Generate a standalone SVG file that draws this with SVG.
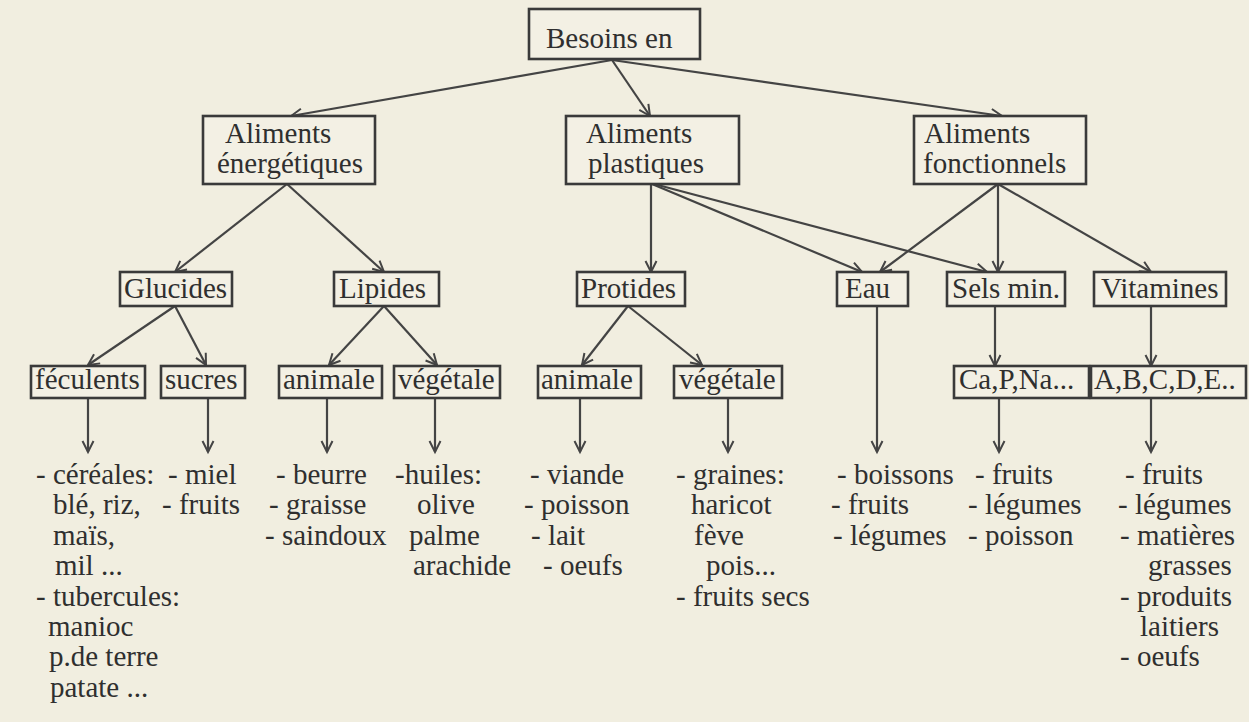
<svg xmlns="http://www.w3.org/2000/svg" width="1249" height="722" viewBox="0 0 1249 722">
<defs>
<marker id="ah" markerUnits="userSpaceOnUse" markerWidth="16" markerHeight="16" refX="13" refY="7" orient="auto">
<path d="M2,1.5 L13,7 L2,12.5" fill="none" stroke="#444" stroke-width="2"/>
</marker>
</defs>
<rect x="0" y="0" width="1249" height="722" fill="#f1eee0"/>
<g id="connectors" stroke="#444" stroke-width="2.2" fill="none" marker-end="url(#ah)">
<line x1="612" y1="60" x2="291" y2="116"/>
<line x1="612" y1="60" x2="650" y2="116"/>
<line x1="612" y1="60" x2="1002" y2="116"/>
<line x1="287" y1="184" x2="175" y2="272"/>
<line x1="287" y1="184" x2="384" y2="272"/>
<line x1="651" y1="184" x2="651" y2="272"/>
<line x1="652" y1="184" x2="862" y2="272"/>
<line x1="654" y1="184" x2="987" y2="272"/>
<line x1="998" y1="184" x2="880" y2="272"/>
<line x1="998" y1="184" x2="998" y2="272"/>
<line x1="998" y1="184" x2="1151" y2="272"/>
<line x1="175" y1="306" x2="88" y2="365"/>
<line x1="175" y1="306" x2="206" y2="365"/>
<line x1="384" y1="306" x2="329" y2="365"/>
<line x1="384" y1="306" x2="437" y2="365"/>
<line x1="628" y1="306" x2="582" y2="365"/>
<line x1="628" y1="306" x2="702" y2="365"/>
<line x1="995" y1="306" x2="995" y2="366"/>
<line x1="1151" y1="306" x2="1151" y2="366"/>
<line x1="877" y1="306" x2="877" y2="452"/>
<line x1="88" y1="398" x2="88" y2="452"/>
<line x1="208" y1="398" x2="208" y2="452"/>
<line x1="327" y1="398" x2="327" y2="452"/>
<line x1="435" y1="398" x2="435" y2="452"/>
<line x1="580" y1="398" x2="580" y2="452"/>
<line x1="728" y1="398" x2="728" y2="452"/>
<line x1="999" y1="398" x2="999" y2="452"/>
<line x1="1151" y1="398" x2="1151" y2="452"/>
</g>
<g id="n-besoins"><rect fill="#f3f0e4" stroke="#3a3a3a" stroke-width="2.6" x="529" y="9" width="171" height="50"/><text font-family="Liberation Serif" font-size="29" fill="#2f2f2f" x="546" y="48">Besoins en</text></g>
<g id="n-energetiques"><rect fill="#f3f0e4" stroke="#3a3a3a" stroke-width="2.6" x="203" y="116" width="172" height="68"/><text font-family="Liberation Serif" font-size="29" fill="#2f2f2f" x="225" y="143">Aliments</text><text font-family="Liberation Serif" font-size="29" fill="#2f2f2f" x="217" y="173">énergétiques</text></g>
<g id="n-plastiques"><rect fill="#f3f0e4" stroke="#3a3a3a" stroke-width="2.6" x="566" y="116" width="173" height="68"/><text font-family="Liberation Serif" font-size="29" fill="#2f2f2f" x="586" y="143">Aliments</text><text font-family="Liberation Serif" font-size="29" fill="#2f2f2f" x="588" y="173">plastiques</text></g>
<g id="n-fonctionnels"><rect fill="#f3f0e4" stroke="#3a3a3a" stroke-width="2.6" x="914" y="116" width="172" height="68"/><text font-family="Liberation Serif" font-size="29" fill="#2f2f2f" x="924" y="143">Aliments</text><text font-family="Liberation Serif" font-size="29" fill="#2f2f2f" x="923" y="173">fonctionnels</text></g>
<g id="n-glucides"><rect fill="#f3f0e4" stroke="#3a3a3a" stroke-width="2.6" x="120" y="272" width="112" height="34"/><text font-family="Liberation Serif" font-size="29" fill="#2f2f2f" x="124" y="298">Glucides</text></g>
<g id="n-lipides"><rect fill="#f3f0e4" stroke="#3a3a3a" stroke-width="2.6" x="334" y="272" width="105" height="34"/><text font-family="Liberation Serif" font-size="29" fill="#2f2f2f" x="339" y="298">Lipides</text></g>
<g id="n-protides"><rect fill="#f3f0e4" stroke="#3a3a3a" stroke-width="2.6" x="577" y="272" width="108" height="34"/><text font-family="Liberation Serif" font-size="29" fill="#2f2f2f" x="581" y="298">Protides</text></g>
<g id="n-eau"><rect fill="#f3f0e4" stroke="#3a3a3a" stroke-width="2.6" x="837" y="272" width="71" height="34"/><text font-family="Liberation Serif" font-size="29" fill="#2f2f2f" x="845" y="298">Eau</text></g>
<g id="n-sels"><rect fill="#f3f0e4" stroke="#3a3a3a" stroke-width="2.6" x="947" y="272" width="118" height="34"/><text font-family="Liberation Serif" font-size="29" fill="#2f2f2f" x="952" y="298">Sels min.</text></g>
<g id="n-vitamines"><rect fill="#f3f0e4" stroke="#3a3a3a" stroke-width="2.6" x="1094" y="272" width="132" height="34"/><text font-family="Liberation Serif" font-size="29" fill="#2f2f2f" x="1101" y="298">Vitamines</text></g>
<g id="n-feculents"><rect fill="#f3f0e4" stroke="#3a3a3a" stroke-width="2.6" x="31" y="366" width="114" height="32"/><text font-family="Liberation Serif" font-size="29" fill="#2f2f2f" x="35" y="389">féculents</text></g>
<g id="n-sucres"><rect fill="#f3f0e4" stroke="#3a3a3a" stroke-width="2.6" x="161" y="366" width="84" height="32"/><text font-family="Liberation Serif" font-size="29" fill="#2f2f2f" x="165" y="389">sucres</text></g>
<g id="n-animale1"><rect fill="#f3f0e4" stroke="#3a3a3a" stroke-width="2.6" x="279" y="366" width="103" height="32"/><text font-family="Liberation Serif" font-size="29" fill="#2f2f2f" x="283" y="389">animale</text></g>
<g id="n-vegetale1"><rect fill="#f3f0e4" stroke="#3a3a3a" stroke-width="2.6" x="394" y="366" width="106" height="32"/><text font-family="Liberation Serif" font-size="29" fill="#2f2f2f" x="398" y="389">végétale</text></g>
<g id="n-animale2"><rect fill="#f3f0e4" stroke="#3a3a3a" stroke-width="2.6" x="538" y="366" width="103" height="32"/><text font-family="Liberation Serif" font-size="29" fill="#2f2f2f" x="541" y="389">animale</text></g>
<g id="n-vegetale2"><rect fill="#f3f0e4" stroke="#3a3a3a" stroke-width="2.6" x="674" y="366" width="108" height="32"/><text font-family="Liberation Serif" font-size="29" fill="#2f2f2f" x="679" y="389">végétale</text></g>
<g id="n-capna"><rect fill="#f3f0e4" stroke="#3a3a3a" stroke-width="2.6" x="954" y="366" width="135" height="32"/><text font-family="Liberation Serif" font-size="29" fill="#2f2f2f" x="959" y="389">Ca,P,Na...</text></g>
<g id="n-abcde"><rect fill="#f3f0e4" stroke="#3a3a3a" stroke-width="2.6" x="1091" y="366" width="155" height="32"/><text font-family="Liberation Serif" font-size="29" fill="#2f2f2f" x="1094" y="389">A,B,C,D,E..</text></g>
<g id="l-feculents" font-family="Liberation Serif" font-size="29" fill="#2f2f2f">
<text font-family="Liberation Serif" x="36" y="484">- céréales:</text>
<text font-family="Liberation Serif" x="53" y="514.4">blé, riz,</text>
<text font-family="Liberation Serif" x="53" y="544.8">maïs,</text>
<text font-family="Liberation Serif" x="55" y="575.2">mil ...</text>
<text font-family="Liberation Serif" x="36" y="605.6">- tubercules:</text>
<text font-family="Liberation Serif" x="48" y="636">manioc</text>
<text font-family="Liberation Serif" x="49" y="666.4">p.de terre</text>
<text font-family="Liberation Serif" x="50" y="696.8">patate ...</text>
</g>
<g id="l-sucres" font-family="Liberation Serif" font-size="29" fill="#2f2f2f"><text font-family="Liberation Serif" x="168" y="484">- miel</text><text font-family="Liberation Serif" x="162" y="514.4">- fruits</text></g>
<g id="l-animale1" font-family="Liberation Serif" font-size="29" fill="#2f2f2f"><text font-family="Liberation Serif" x="276" y="484">- beurre</text><text font-family="Liberation Serif" x="269" y="514.4">- graisse</text><text font-family="Liberation Serif" x="265" y="544.8">- saindoux</text></g>
<g id="l-vegetale1" font-family="Liberation Serif" font-size="29" fill="#2f2f2f"><text font-family="Liberation Serif" x="395" y="484">-huiles:</text><text font-family="Liberation Serif" x="417" y="514.4">olive</text><text font-family="Liberation Serif" x="409" y="544.8">palme</text><text font-family="Liberation Serif" x="413" y="575.2">arachide</text></g>
<g id="l-animale2" font-family="Liberation Serif" font-size="29" fill="#2f2f2f"><text font-family="Liberation Serif" x="530" y="484">- viande</text><text font-family="Liberation Serif" x="524" y="514.4">- poisson</text><text font-family="Liberation Serif" x="531" y="544.8">- lait</text><text font-family="Liberation Serif" x="543" y="575.2">- oeufs</text></g>
<g id="l-vegetale2" font-family="Liberation Serif" font-size="29" fill="#2f2f2f"><text font-family="Liberation Serif" x="676" y="484">- graines:</text><text font-family="Liberation Serif" x="691" y="514.4">haricot</text><text font-family="Liberation Serif" x="694" y="544.8">fève</text><text font-family="Liberation Serif" x="706" y="575.2">pois...</text><text font-family="Liberation Serif" x="676" y="605.6">- fruits secs</text></g>
<g id="l-eau" font-family="Liberation Serif" font-size="29" fill="#2f2f2f"><text font-family="Liberation Serif" x="837" y="484">- boissons</text><text font-family="Liberation Serif" x="831" y="514.4">- fruits</text><text font-family="Liberation Serif" x="833" y="544.8">- légumes</text></g>
<g id="l-capna" font-family="Liberation Serif" font-size="29" fill="#2f2f2f"><text font-family="Liberation Serif" x="975" y="484">- fruits</text><text font-family="Liberation Serif" x="968" y="514.4">- légumes</text><text font-family="Liberation Serif" x="968" y="544.8">- poisson</text></g>
<g id="l-abcde" font-family="Liberation Serif" font-size="29" fill="#2f2f2f"><text font-family="Liberation Serif" x="1125" y="484">- fruits</text><text font-family="Liberation Serif" x="1118" y="514.4">- légumes</text><text font-family="Liberation Serif" x="1120" y="544.8">- matières</text><text font-family="Liberation Serif" x="1148" y="575.2">grasses</text><text font-family="Liberation Serif" x="1120" y="605.6">- produits</text><text font-family="Liberation Serif" x="1140" y="636">laitiers</text><text font-family="Liberation Serif" x="1120" y="666.4">- oeufs</text></g>
</svg>
